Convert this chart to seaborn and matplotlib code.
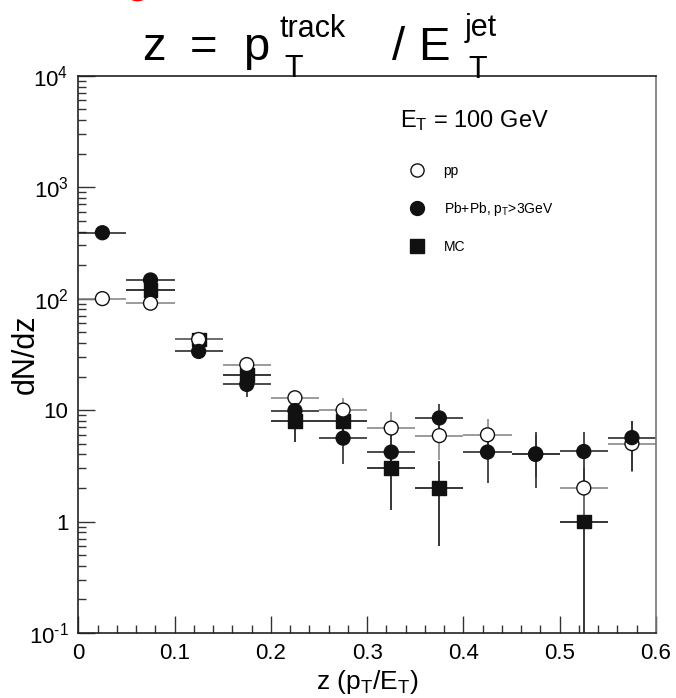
import numpy as np
import pandas as pd
import seaborn as sns
import matplotlib.pyplot as plt
from matplotlib.lines import Line2D
from matplotlib.patches import Ellipse
from matplotlib.ticker import FixedLocator, MultipleLocator, LogLocator, NullFormatter

# bin centres (bin width 0.05)
z_bins = [0.025, 0.075, 0.125, 0.175, 0.225, 0.275, 0.325, 0.375, 0.425, 0.475, 0.525, 0.575]

# pp (open circles)
pp_y = [100, 91, 43, 25.6, 12.9, 10, 6.9, 5.9, 6.0, 4.0, 2.0, 5.0]
pp_lo = [0, 0, 0, 2, 1, 1.5, 2.0, 2.3, 2.3, 1.5, 0.9, 2.2]
pp_hi = [0, 0, 0, 2, 1, 2.9, 2.7, 3.0, 2.3, 2.0, 1.0, 3.0]

# Pb+Pb, pT>3GeV (filled circles)
pbpb_y = [390, 147, 33.6, 17, 9.9, 5.6, 4.2, 8.5, 4.2, 4.05, 4.25, 5.66]
pbpb_lo = [0, 10, 5, 3.9, 1.5, 2.3, 1.3, 2.5, 2.0, 2.05, 2.0, 2.8]
pbpb_hi = [0, 10, 5, 3, 1.5, 3, 2, 2.8, 2.5, 2.25, 2.05, 2.4]

# MC (filled squares)
mc_z = [0.075, 0.125, 0.175, 0.225, 0.275, 0.325, 0.375, 0.525]
mc_y = [120, 43, 20.8, 8.0, 8.0, 3.0, 2.0, 1.0]
mc_lo = [8, 4, 2.5, 2.8, 1.5, 1.72, 1.4, 0.999]
mc_hi = [8, 4, 2.5, 1.5, 1.5, 1.5, 1.5, 1.0]

half_width = 0.025

x_ticks = [0, 0.1, 0.2, 0.3, 0.4, 0.5, 0.6]
x_ticklabels = ["0", "0.1", "0.2", "0.3", "0.4", "0.5", "0.6"]
y_ticks = [0.1, 1, 10, 100, 1000, 10000]
y_ticklabels = [r"$\mathregular{10^{\text{-}1}}$", "1", "10", r"$\mathregular{10^{2}}$",
                r"$\mathregular{10^{3}}$", r"$\mathregular{10^{4}}$"]

sns.set_style("ticks")
plt.rcParams["font.family"] = ["Liberation Sans", "DejaVu Sans"]
plt.rcParams["mathtext.fontset"] = "custom"
plt.rcParams["mathtext.rm"] = "Liberation Sans"
plt.rcParams["mathtext.it"] = "Liberation Sans"
plt.rcParams["text.color"] = "black"
plt.rcParams["axes.labelcolor"] = "black"
plt.rcParams["xtick.color"] = "black"
plt.rcParams["ytick.color"] = "black"

# long table, drawn in this order (MC at the back, Pb+Pb in front)
df = pd.concat([
    pd.DataFrame({"z": mc_z, "dNdz": mc_y, "sample": "MC"}),
    pd.DataFrame({"z": z_bins, "dNdz": pp_y, "sample": "pp"}),
    pd.DataFrame({"z": z_bins, "dNdz": pbpb_y, "sample": "PbPb"}),
], ignore_index=True)

fig = plt.figure(figsize=(6.76, 6.98), dpi=100)
W, H = 676, 698
ax = fig.add_axes([78.3 / W, 1 - 633 / H, (656 - 78.3) / W, (633 - 75.7) / H])
ax.set_yscale("log")

# error bars
ax.errorbar(mc_z, mc_y, xerr=half_width, yerr=[mc_lo, mc_hi], fmt="none",
            ecolor="black", elinewidth=1.1, capsize=0, zorder=2)
ax.errorbar(z_bins, pp_y, xerr=half_width, yerr=[pp_lo, pp_hi], fmt="none",
            ecolor="#808080", elinewidth=1.1, capsize=0, zorder=2)
ax.errorbar(z_bins, pbpb_y, xerr=half_width, yerr=[pbpb_lo, pbpb_hi], fmt="none",
            ecolor="#1a1a1a", elinewidth=1.1, capsize=0, zorder=2)

sns.scatterplot(data=df, x="z", y="dNdz", hue="sample", style="sample",
                markers={"MC": "s", "PbPb": "o", "pp": "o"},
                palette={"MC": "#111111", "PbPb": "#111111", "pp": "white"},
                edgecolor="#111111", linewidth=1.0, s=100, legend=False,
                ax=ax, zorder=3)

ax.set_xlim(0, 0.6)
ax.set_ylim(0.1, 1e4)
ax.xaxis.set_major_locator(FixedLocator(x_ticks))
ax.set_xticklabels(x_ticklabels)
ax.xaxis.set_minor_locator(MultipleLocator(0.02))
ax.yaxis.set_major_locator(FixedLocator(y_ticks))
ax.set_yticklabels(y_ticklabels)
ax.yaxis.set_minor_locator(LogLocator(base=10, subs=np.arange(2, 10), numticks=20))
ax.yaxis.set_minor_formatter(NullFormatter())

ax.tick_params(which="both", direction="in", top=False, right=False,
               labelsize=16, width=1.0, color="#333333", pad=7)
ax.tick_params(which="major", length=12)
ax.tick_params(which="minor", length=6)
for sp in ax.spines.values():
    sp.set_visible(True)
    sp.set_linewidth(1.2)
    sp.set_color("#222222")
ax.spines["right"].set_color("#777777")

ax.set_xlabel(r"z (p$_\mathregular{T}$/E$_\mathregular{T}$)", fontsize=19, labelpad=3)
ax.set_ylabel("dN/dz", fontsize=22)
ax.yaxis.set_label_coords(-0.065, 0.5)

# energy label and legend
ax.text(0.557, 0.908, r"E$_\mathregular{T}$ = 100 GeV", transform=ax.transAxes,
        fontsize=17, va="baseline", ha="left")
handles = [
    Line2D([], [], ls="none", marker="o", ms=9.5, mfc="white", mec="#111111", mew=1.0),
    Line2D([], [], ls="none", marker="o", ms=10, mfc="#111111", mec="#111111"),
    Line2D([], [], ls="none", marker="s", ms=10, mfc="#111111", mec="#111111"),
]
labels = ["pp", r"Pb+Pb, p$_\mathregular{T}$>3GeV", "MC"]
ax.legend(handles, labels, loc="upper left", bbox_to_anchor=(0.565, 0.852),
          frameon=False, fontsize=10, handlelength=1.0, handletextpad=1.4,
          labelspacing=1.6, borderaxespad=0)

# title, TLatex style
ty = lambda px: 1 - px / H
fig.text(142 / W, ty(60), "z", fontsize=34, va="baseline")
fig.text(190 / W, ty(60), "=", fontsize=34, va="baseline")
fig.text(243 / W, ty(60), "p", fontsize=34, va="baseline")
fig.text(279 / W, ty(37), "track", fontsize=22, va="baseline")
fig.text(284 / W, ty(77), "T", fontsize=22, va="baseline")
fig.text(392 / W, ty(60), "/", fontsize=34, va="baseline")
fig.text(418 / W, ty(60), "E", fontsize=34, va="baseline")
fig.text(465 / W, ty(36), "jet", fontsize=22, va="baseline")
fig.text(468 / W, ty(78), "T", fontsize=22, va="baseline")

# small red mark cut off at the top edge
fig.add_artist(Ellipse((137.5 / W, 1 + 12 / H), width=24 / W, height=24 / H,
                       transform=fig.transFigure, facecolor="none",
                       edgecolor="red", linewidth=2.0))

fig.savefig("out.png", dpi=100)
